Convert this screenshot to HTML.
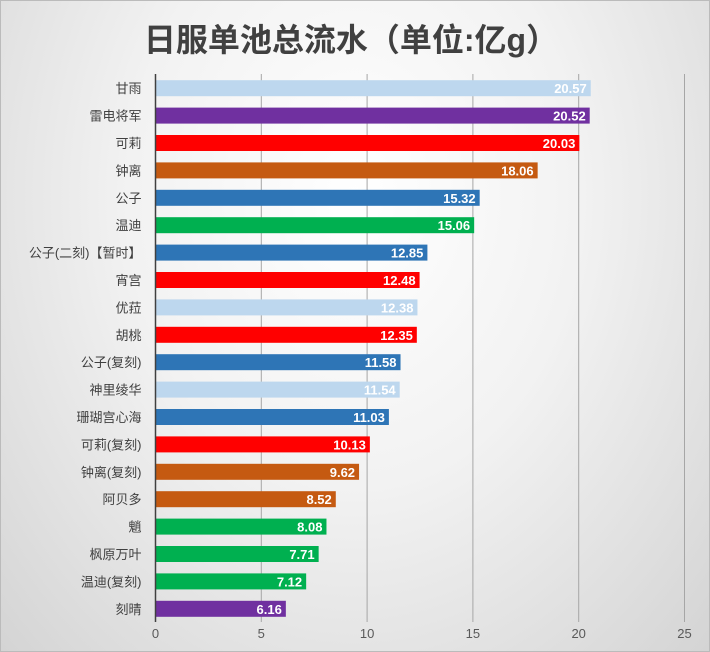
<!DOCTYPE html>
<html><head><meta charset="utf-8"><style>
body{margin:0;width:710px;height:652px;overflow:hidden;font-family:"Liberation Sans","Noto Sans CJK SC",sans-serif;}
#wrap{position:relative;width:708px;height:650px;border:1px solid #bbb;background:radial-gradient(ellipse at 50% 30%,#ffffff 0%,#f2f2f2 45%,#d4d4d4 100%);}
#title{position:absolute;left:0;width:700px;top:14px;text-align:center;font-size:32px;font-weight:bold;color:#404040;}
</style></head><body>
<div id="wrap">
<div id="title">日服单池总流水（单位:亿g）</div>
<svg id="chart" width="708" height="650" style="position:absolute;left:0;top:0"></svg>
</div>
<script>
const categories=["甘雨","雷电将军","可莉","钟离","公子","温迪","公子(二刻)【暂时】","宵宫","优菈","胡桃","公子(复刻)","神里绫华","珊瑚宫心海","可莉(复刻)","钟离(复刻)","阿贝多","魈","枫原万叶","温迪(复刻)","刻晴"];
const values=[20.57,20.52,20.03,18.06,15.32,15.06,12.85,12.48,12.38,12.35,11.58,11.54,11.03,10.13,9.62,8.52,8.08,7.71,7.12,6.16];
const colors=["#bdd7ee","#7030a0","#ff0000","#c55a11","#2e75b6","#00b050","#2e75b6","#ff0000","#bdd7ee","#ff0000","#2e75b6","#bdd7ee","#2e75b6","#ff0000","#c55a11","#c55a11","#00b050","#00b050","#00b050","#7030a0"];
const ticks=[0,5,10,15,20,25];
const NS="http://www.w3.org/2000/svg";
const svgEl=document.getElementById('chart');
const x0=154.5,x1=683.5,vmax=25,plotTop=73,plotBottom=621;
const xs=v=>x0+(x1-x0)*v/vmax;
const step=(plotBottom-plotTop)/categories.length;
const yc=i=>plotTop+step*(i+0.5)+0.5;
function mk(t,a){const e=document.createElementNS(NS,t);for(const k in a)e.setAttribute(k,a[k]);svgEl.appendChild(e);return e;}
ticks.forEach(t=>{
 if(t>0){const l=mk('line',{x1:xs(t),x2:xs(t),y1:plotTop,y2:plotBottom,stroke:'#a6a6a6','stroke-width':1});
 
 }
 const tx=mk('text',{x:xs(t),y:637,'text-anchor':'middle','font-size':13,fill:'#595959'});
 tx.textContent=t;
 
 
});
categories.forEach((c,i)=>{
 const y=yc(i);
 const r=mk('rect',{x:x0,y:y-8,width:xs(values[i])-x0,height:16,fill:colors[i]});
 
 
 const v=mk('text',{x:xs(values[i])-4,y:y+5,'text-anchor':'end','font-size':13,'font-weight':'bold',fill:'#fff'});
 v.textContent=values[i].toFixed(2);
 
 
 const l=mk('text',{x:x0-14,y:y+5,'text-anchor':'end','font-size':13,fill:'#404040'});
 l.textContent=c;
 
 
});
const ax=mk('line',{x1:x0,x2:x0,y1:plotTop,y2:plotBottom,stroke:'#404040','stroke-width':1.5});


</script>
</body></html>
